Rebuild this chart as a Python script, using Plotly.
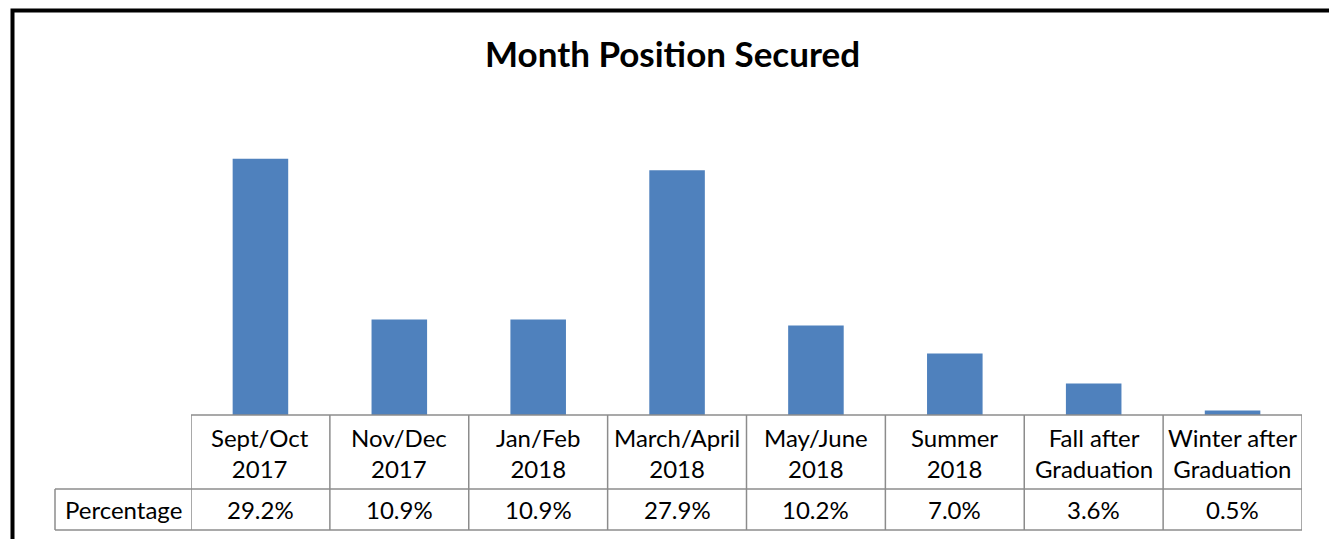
import plotly.graph_objects as go

categories = ["Sept/Oct<br>2017", "Nov/Dec<br>2017", "Jan/Feb<br>2018", "March/April<br>2018",
              "May/June<br>2018", "Summer<br>2018", "Fall after<br>Graduation", "Winter after<br>Graduation"]
values = [29.2, 10.9, 10.9, 27.9, 10.2, 7.0, 3.6, 0.5]
value_labels = ["29.2%", "10.9%", "10.9%", "27.9%", "10.2%", "7.0%", "3.6%", "0.5%"]
row_label = "Percentage"
title = "Month Position Secured"

W, H = 1337, 539
OFF = 8  # default page body margin
def px(x): return (x - OFF) / W
def py(y): return (H - (y - OFF)) / H

FONT = "Lato"
idx = list(range(len(values)))

fig = go.Figure()
fig.add_trace(go.Bar(x=idx, y=values, width=0.4, marker=dict(color="#4F81BD", line=dict(width=0)),
                     hoverinfo="skip"))

shapes = []
grid = "#8c8c8c"
shapes.append(dict(type="rect", xref="paper", yref="paper", x0=px(12.5), x1=px(1332.5), y0=py(570), y1=py(10.5),
                   line=dict(color="black", width=4), fillcolor="rgba(0,0,0,0)", layer="above"))
n = len(values)
for yy in [415, 489, 530]:
    shapes.append(dict(type="line", xref="x", yref="paper", x0=-0.5, x1=n - 0.5, y0=py(yy), y1=py(yy),
                       line=dict(color=grid, width=1.5)))
for i in range(n + 1):
    shapes.append(dict(type="line", xref="x", yref="paper", x0=i - 0.5, x1=i - 0.5, y0=py(415), y1=py(530),
                       line=dict(color=grid, width=1.5)))
shapes.append(dict(type="line", xref="paper", yref="paper", x0=px(55), x1=px(191), y0=py(489), y1=py(489),
                   line=dict(color=grid, width=1.5)))
shapes.append(dict(type="line", xref="paper", yref="paper", x0=px(55), x1=px(191), y0=py(530), y1=py(530),
                   line=dict(color=grid, width=1.5)))
shapes.append(dict(type="line", xref="paper", yref="paper", x0=px(55), x1=px(55), y0=py(489), y1=py(530),
                   line=dict(color=grid, width=1.5)))

FS = 24
annotations = []
for i, c in enumerate(categories):
    annotations.append(dict(x=i, y=py(453), xref="x", yref="paper", text=c, showarrow=False,
                            font=dict(family=FONT, size=FS, color="black"), align="center",
                            xanchor="center", yanchor="middle"))
    annotations.append(dict(x=i, y=py(509), xref="x", yref="paper", text=value_labels[i], showarrow=False,
                            font=dict(family=FONT, size=FS, color="black"), xanchor="center", yanchor="middle"))
annotations.append(dict(x=px(123), y=py(509), xref="paper", yref="paper", text=row_label, showarrow=False,
                        font=dict(family=FONT, size=FS, color="black"), xanchor="center", yanchor="middle"))
annotations.append(dict(x=px(672), y=py(53), xref="paper", yref="paper", text="<b>" + title + "</b>",
                        showarrow=False, font=dict(family=FONT, size=35, color="black"),
                        xanchor="center", yanchor="middle"))

fig.update_layout(
    width=W, height=H, autosize=False,
    margin=dict(l=0, r=0, t=0, b=0),
    paper_bgcolor="white", plot_bgcolor="white",
    showlegend=False,
    xaxis=dict(domain=[px(191), px(1302)], range=[-0.5, n - 0.5], showticklabels=False,
               showgrid=False, zeroline=False, showline=False, ticks=""),
    yaxis=dict(domain=[py(415), py(108)], range=[0, 35], showticklabels=False,
               showgrid=False, zeroline=False, showline=False, ticks=""),
    shapes=shapes, annotations=annotations,
)
fig.write_html("out.html")
